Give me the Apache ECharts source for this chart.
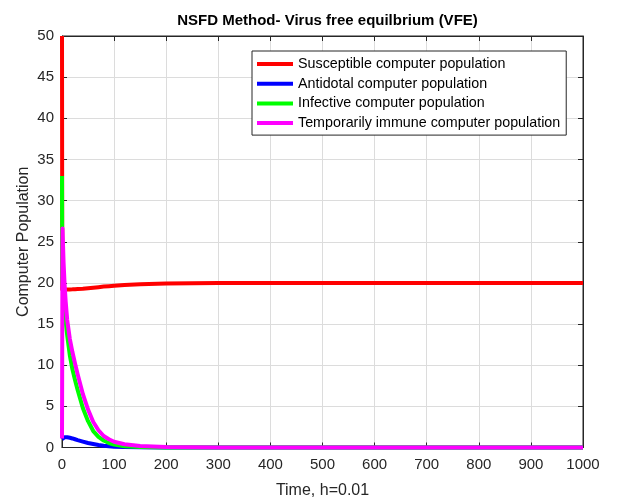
<!DOCTYPE html>
<html>
<head>
<meta charset="utf-8">
<script src="https://cdn.jsdelivr.net/npm/echarts@6/dist/echarts.min.js"></script>
<style>
  html, body { margin: 0; padding: 0; background: #fff; }
  #chart { width: 617px; height: 497px; }
</style>
</head>
<body>
<div id="chart"></div>
<script>
// Sample times of the NSFD solution (h = 0.01), thinned for plotting
const time = [0, 0.5, 1, 2, 3, 5, 7, 10, 15, 20, 25, 30, 40, 50, 60, 70, 80, 90, 100, 120, 150, 200, 250, 300, 400, 500, 600, 700, 800, 900, 1000];

// Compartment values at those times
const susceptible = [50, 19.2, 19.2, 19.2, 19.2, 19.2, 19.2, 19.2, 19.21, 19.22, 19.24, 19.26, 19.3, 19.36, 19.42, 19.48, 19.55, 19.6, 19.65, 19.74, 19.83, 19.93, 19.97, 19.99, 20, 20, 20, 20, 20, 20, 20];
const antidotal   = [1.0, 1.05, 1.1, 1.15, 1.2, 1.25, 1.27, 1.25, 1.18, 1.1, 1.0, 0.9, 0.72, 0.55, 0.42, 0.3, 0.21, 0.15, 0.1, 0.05, 0.02, 0, 0, 0, 0, 0, 0, 0, 0, 0, 0];
const infective   = [33, 21, 20, 19.3, 18.6, 16.8, 15.3, 13.6, 11.2, 9.5, 8.2, 7.0, 4.8, 3.2, 2.0, 1.3, 0.85, 0.55, 0.35, 0.15, 0.05, 0.01, 0, 0, 0, 0, 0, 0, 0, 0, 0];
const immune      = [1.1, 14, 26.6, 24.5, 22.5, 19.8, 17.8, 15.5, 13.2, 11.6, 10.2, 8.9, 6.5, 4.6, 3.1, 2.1, 1.4, 1.0, 0.7, 0.4, 0.18, 0.05, 0.02, 0, 0, 0, 0, 0, 0, 0, 0];

const seriesNames = [
  'Susceptible computer population',
  'Antidotal computer population',
  'Infective computer population',
  'Temporarily immune computer population'
];
const seriesColors = ['#ff0000', '#0000ff', '#00ff00', '#ff00ff'];
const seriesValues = [susceptible, antidotal, infective, immune];

const xTicks = { min: 0, max: 1000, step: 100 };
const yTicks = { min: 0, max: 50, step: 5 };

const FONT = '"Liberation Sans", Arial, Helvetica, sans-serif';
const INK = '#262626';

const chart = echarts.init(document.getElementById('chart'), null, { renderer: 'canvas' });

const pairs = vals => time.map((t, i) => [t, vals[i]]);
const plain = v => String(v);

const gridLine = { show: true, lineStyle: { color: '#dcdcdc', width: 1 } };

chart.setOption({
  animation: false,
  backgroundColor: '#ffffff',
  title: {
    text: 'NSFD Method- Virus free equilbrium (VFE)',
    left: 322.5,
    top: 8,
    textAlign: 'center',
    textStyle: { fontFamily: FONT, fontSize: 15, fontWeight: 'bold', color: '#000' }
  },
  legend: {
    orient: 'vertical',
    left: 252,
    top: 51,
    width: 316,
    padding: [6, 6, 5, 5],
    itemWidth: 36,
    itemHeight: 4,
    itemGap: 5.7,
    icon: 'rect',
    borderColor: '#262626',
    borderWidth: 1,
    backgroundColor: '#ffffff',
    textStyle: { fontFamily: FONT, fontSize: 14.3, color: '#000', lineHeight: 14 },
    data: seriesNames
  },
  grid: {
    left: 62, right: 34, top: 36, bottom: 49.5,
    outerBoundsMode: 'none',
    containLabel: false,
    show: true, borderColor: INK, borderWidth: 1, backgroundColor: 'transparent'
  },
  xAxis: [{
    type: 'value',
    min: xTicks.min, max: xTicks.max, interval: xTicks.step,
    name: 'Time, h=0.01',
    nameLocation: 'middle',
    nameGap: 35,
    nameMoveOverlap: false,
    nameTextStyle: { fontFamily: FONT, fontSize: 16, color: INK },
    axisLine: { show: true, onZero: false, lineStyle: { color: INK, width: 1 } },
    axisTick: { show: true, inside: true, length: 5, lineStyle: { color: INK } },
    axisLabel: { fontFamily: FONT, fontSize: 15, color: INK, margin: 10, formatter: plain },
    splitLine: gridLine
  }, {
    type: 'value', position: 'top',
    min: xTicks.min, max: xTicks.max, interval: xTicks.step,
    axisLine: { show: true, onZero: false, lineStyle: { color: INK, width: 1 } },
    axisTick: { show: true, inside: true, length: 5, lineStyle: { color: INK } },
    axisLabel: { show: false },
    splitLine: { show: false }
  }],
  yAxis: [{
    type: 'value',
    min: yTicks.min, max: yTicks.max, interval: yTicks.step,
    name: 'Computer Population',
    nameLocation: 'middle',
    nameGap: 30,
    nameMoveOverlap: false,
    nameTextStyle: { fontFamily: FONT, fontSize: 16, color: INK },
    axisLine: { show: true, onZero: false, lineStyle: { color: INK, width: 1 } },
    axisTick: { show: true, inside: true, length: 5, lineStyle: { color: INK } },
    axisLabel: { fontFamily: FONT, fontSize: 15, color: INK, margin: 8, formatter: plain },
    splitLine: gridLine
  }, {
    type: 'value', position: 'right',
    min: yTicks.min, max: yTicks.max, interval: yTicks.step,
    axisLine: { show: true, onZero: false, lineStyle: { color: INK, width: 1 } },
    axisTick: { show: true, inside: true, length: 5, lineStyle: { color: INK } },
    axisLabel: { show: false },
    splitLine: { show: false }
  }],
  series: seriesNames.map((name, k) => ({
    name,
    type: 'line',
    xAxisIndex: 0,
    yAxisIndex: 0,
    data: pairs(seriesValues[k]),
    showSymbol: false,
    symbol: 'none',
    clip: false,
    smooth: false,
    color: seriesColors[k],
    lineStyle: { color: seriesColors[k], width: 4, cap: 'butt', join: 'round' },
    z: 3 + k
  }))
});
</script>
</body>
</html>
